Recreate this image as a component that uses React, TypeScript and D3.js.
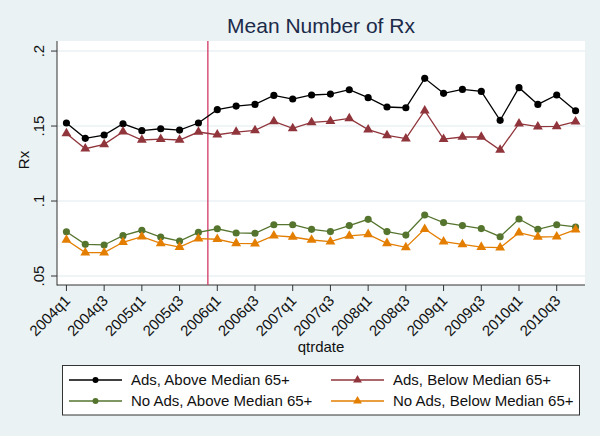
import React from "react";
import * as d3 from "d3";

const quarters = [
  "2004q1","2004q2","2004q3","2004q4","2005q1","2005q2","2005q3","2005q4",
  "2006q1","2006q2","2006q3","2006q4","2007q1","2007q2","2007q3","2007q4",
  "2008q1","2008q2","2008q3","2008q4","2009q1","2009q2","2009q3","2009q4",
  "2010q1","2010q2","2010q3","2010q4",
];
const tickLabels = [
  "2004q1","2004q3","2005q1","2005q3","2006q1","2006q3","2007q1",
  "2007q3","2008q1","2008q3","2009q1","2009q3","2010q1","2010q3",
];
const yTicks = [0.05, 0.1, 0.15, 0.2];
const yTickLabels = [".05", ".1", ".15", ".2"];

const adsAbove = [0.152, 0.1418, 0.144, 0.1515, 0.1469, 0.1482, 0.1473, 0.152, 0.1609, 0.1633, 0.1644, 0.1704, 0.168, 0.1707, 0.1713, 0.1742, 0.1689, 0.1627, 0.1622, 0.1818, 0.1718, 0.1744, 0.1731, 0.1538, 0.1756, 0.1644, 0.1707, 0.1602];
const adsBelow = [0.1451, 0.1349, 0.1378, 0.1462, 0.1407, 0.1413, 0.1407, 0.146, 0.1442, 0.146, 0.1471, 0.1531, 0.1484, 0.1524, 0.1533, 0.1551, 0.1476, 0.1438, 0.1416, 0.1602, 0.1413, 0.1427, 0.1427, 0.134, 0.1516, 0.1496, 0.1498, 0.1529];
const noAdsAbove = [0.0795, 0.0711, 0.0707, 0.0769, 0.0805, 0.076, 0.0733, 0.0791, 0.0815, 0.0787, 0.0785, 0.0842, 0.0842, 0.0811, 0.0796, 0.0836, 0.0878, 0.0796, 0.0773, 0.0907, 0.0856, 0.0836, 0.0816, 0.0762, 0.088, 0.0811, 0.0842, 0.0827];
const noAdsBelow = [0.074, 0.0656, 0.0656, 0.0725, 0.0762, 0.0718, 0.0693, 0.0749, 0.0745, 0.0718, 0.0716, 0.0769, 0.076, 0.074, 0.0729, 0.0767, 0.0778, 0.0718, 0.0691, 0.0813, 0.0729, 0.0711, 0.0693, 0.0689, 0.0789, 0.076, 0.0762, 0.0809];

const seriesNames = [
  "Ads, Above Median 65+",
  "Ads, Below Median 65+",
  "No Ads, Above Median 65+",
  "No Ads, Below Median 65+",
];
const policyQuarter = 7.5; // between 2005q4 and 2006q1

const W = 600, H = 436;
const FONT = "'Liberation Sans', Arial, sans-serif";

export default function App() {
  const left = 57, right = 585, top = 41, bottom = 285;
  const x = d3.scaleLinear().domain([-0.5, quarters.length - 0.5]).range([left, right]);
  const y = d3.scaleLinear().domain([0.044, 0.2067]).range([bottom, top]);

  const series = [
    { name: seriesNames[0], values: adsAbove, color: "#000000", shape: "circle" },
    { name: seriesNames[1], values: adsBelow, color: "#90353b", shape: "triangle" },
    { name: seriesNames[2], values: noAdsAbove, color: "#55752f", shape: "circle" },
    { name: seriesNames[3], values: noAdsBelow, color: "#e37e00", shape: "triangle" },
  ];

  const line = d3.line<number>().x((_, i) => x(i)).y((d) => y(d));
  const circ = d3.symbol().type(d3.symbolCircle).size(40)()!;
  const tri = d3.symbol().type(d3.symbolTriangle).size(42)()!;

  const legendItems = [
    { s: series[0], lx: 69, ly: 380 },
    { s: series[1], lx: 331, ly: 380 },
    { s: series[2], lx: 69, ly: 401 },
    { s: series[3], lx: 331, ly: 401 },
  ];

  return (
    <svg width={W} height={H} style={{ position: "absolute", left: 0, top: 0 }} fontFamily={FONT}>
      <rect x={0} y={0} width={W} height={H} fill="#eaf2f3" />
      <rect x={left} y={top} width={right - left} height={bottom - top} fill="#ffffff" />
      {yTicks.map((t) => (
        <line key={t} x1={left} x2={right} y1={y(t)} y2={y(t)} stroke="#eaf2f3" strokeWidth={1.5} />
      ))}
      <text x={(left + right) / 2} y={33} textAnchor="middle" fontSize={21} fill="#1c2a4a">
        Mean Number of Rx
      </text>
      {/* y axis */}
      <line x1={left} x2={left} y1={top} y2={bottom + 0.5} stroke="#333" strokeWidth={1} />
      {yTicks.map((t, i) => (
        <g key={t}>
          <line x1={left - 6} x2={left} y1={y(t)} y2={y(t)} stroke="#333" strokeWidth={1} />
          <text transform={`translate(${left - 13},${y(t)}) rotate(-90)`} textAnchor="middle" fontSize={15} fill="#111">
            {yTickLabels[i]}
          </text>
        </g>
      ))}
      <text transform={`translate(29,160) rotate(-90)`} textAnchor="middle" fontSize={15} fill="#111">Rx</text>
      {/* x axis */}
      <line x1={left} x2={right} y1={bottom} y2={bottom} stroke="#333" strokeWidth={1} />
      {tickLabels.map((lab) => {
        const i = quarters.indexOf(lab);
        const xx = x(i);
        return (
          <g key={lab}>
            <line x1={xx} x2={xx} y1={bottom} y2={bottom + 6} stroke="#333" strokeWidth={1} />
            <text transform={`translate(${xx + 1},${bottom + 13}) rotate(-45)`} textAnchor="end" dy="0.35em" fontSize={15} fill="#111">
              {lab}
            </text>
          </g>
        );
      })}
      <text x={(left + right) / 2} y={352} textAnchor="middle" fontSize={15} fill="#111">qtrdate</text>
      {/* policy line */}
      <line x1={x(policyQuarter)} x2={x(policyQuarter)} y1={top} y2={bottom} stroke="#d4456e" strokeWidth={1.4} />
      {/* series */}
      {series.map((s) => (
        <g key={s.name}>
          <path d={line(s.values)!} fill="none" stroke={s.color} strokeWidth={1.3} />
          {s.values.map((v, i) => (
            <path key={i} d={s.shape === "circle" ? circ : tri} transform={`translate(${x(i)},${y(v)})`} fill={s.color} />
          ))}
        </g>
      ))}
      {/* legend */}
      <rect x={62.5} y={365.5} width={517} height={49.5} fill="#ffffff" stroke="#333" strokeWidth={1} />
      {legendItems.map(({ s, lx, ly }) => (
        <g key={s.name}>
          <line x1={lx} x2={lx + 53} y1={ly} y2={ly} stroke={s.color} strokeWidth={1.3} />
          <path d={s.shape === "circle" ? d3.symbol().type(d3.symbolCircle).size(28)()! : d3.symbol().type(d3.symbolTriangle).size(34)()!} transform={`translate(${lx + 26.5},${ly})`} fill={s.color} />
          <text x={lx + 62} y={ly} dy="0.35em" fontSize={15} fill="#111">{s.name}</text>
        </g>
      ))}
    </svg>
  );
}
